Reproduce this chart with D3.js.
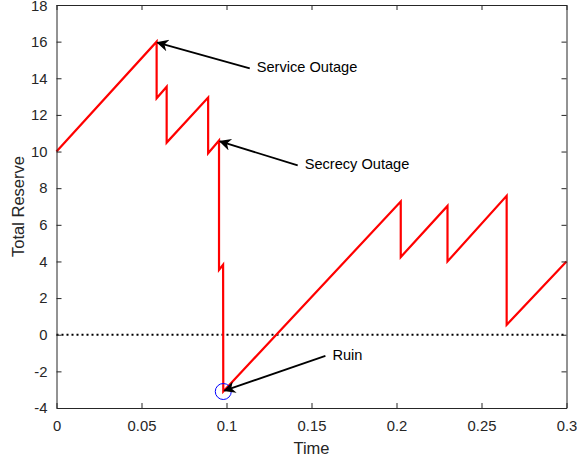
<!DOCTYPE html>
<html><head><meta charset="utf-8">
<script src="https://cdn.jsdelivr.net/npm/d3@7"></script>
<style>body{margin:0;background:#fff}svg{display:block}text{font-family:"Liberation Sans",Arial,sans-serif}</style>
</head><body>
<script>
const times  = [0, 0.0589, 0.0589, 0.0648, 0.0648, 0.0892, 0.0892, 0.0956, 0.0956, 0.0980, 0.0980, 0.0981, 0.2025, 0.2025, 0.2300, 0.2300, 0.2648, 0.2648, 0.3];
const reserve= [10, 16.0, 12.91, 13.54, 10.49, 12.95, 9.91, 10.6, 3.54, 3.82, 3.82, -3.1, 7.27, 4.24, 7.03, 4.0, 7.58, 0.54, 4.0];
const xTicks = [0, 0.05, 0.1, 0.15, 0.2, 0.25, 0.3];
const yTicks = [-4, -2, 0, 2, 4, 6, 8, 10, 12, 14, 16, 18];
const notes = [
  {label: "Service Outage", tx: 0.1178, ty: 14.6, px: 0.0594, py: 15.95},
  {label: "Secrecy Outage", tx: 0.1460, ty: 9.3, px: 0.0962, py: 10.55},
  {label: "Ruin", tx: 0.1623, ty: -1.1, px: 0.0988, py: -3.05}
];
const ruin = {t: 0.0981, v: -3.1};

const W = 577, H = 461;
const m = {l: 56.5, r: 10.5, t: 5, b: 53};
const svg = d3.select("body").append("svg").attr("width", W).attr("height", H);
const x = d3.scaleLinear().domain([0, 0.3]).range([m.l, W - m.r]);
const y = d3.scaleLinear().domain([-4, 18]).range([H - m.b, m.t]);
const axisCol = "#262626";

// zero reference line
svg.append("line").attr("x1", x(0)).attr("x2", x(0.3)).attr("y1", y(0)).attr("y2", y(0))
  .attr("stroke", "#000").attr("stroke-width", 2).attr("stroke-dasharray", "2,3");

// reserve path
const pts = times.map((t, i) => [t, reserve[i]]);
svg.append("path").datum(pts)
  .attr("d", d3.line().x(d => x(d[0])).y(d => y(d[1])))
  .attr("fill", "none").attr("stroke", "#ff0000").attr("stroke-width", 2.2).attr("stroke-linejoin", "miter");

// ruin circle
svg.append("circle").attr("cx", x(ruin.t)).attr("cy", y(ruin.v)).attr("r", 8)
  .attr("fill", "none").attr("stroke", "#0000ff").attr("stroke-width", 1);

// axes
const fmt = d => d === 0 ? "0" : String(d);
const gx = svg.append("g").attr("transform", `translate(0,${y(-4)})`)
  .call(d3.axisBottom(x).tickValues(xTicks).tickFormat(fmt).tickSizeInner(-5).tickSizeOuter(0).tickPadding(12));
const gxt = svg.append("g").attr("transform", `translate(0,${y(18)})`)
  .call(d3.axisTop(x).tickValues(xTicks).tickFormat("").tickSizeInner(-5).tickSizeOuter(0));
const gy = svg.append("g").attr("transform", `translate(${x(0)},0)`)
  .call(d3.axisLeft(y).tickValues(yTicks).tickFormat(fmt).tickSizeInner(-5).tickSizeOuter(0).tickPadding(9));
const gyr = svg.append("g").attr("transform", `translate(${x(0.3)},0)`)
  .call(d3.axisRight(y).tickValues(yTicks).tickFormat("").tickSizeInner(-5).tickSizeOuter(0));
[gx, gxt, gy, gyr].forEach(g => {
  g.selectAll("path").attr("stroke", axisCol).attr("stroke-width", 1);
  g.selectAll("line").attr("stroke", axisCol);
  g.selectAll("text").attr("fill", axisCol).style("font-size", "14.8px").style("font-family", '"Liberation Sans",Arial,sans-serif');
});
gy.selectAll(".tick text").filter(d => d === 18).attr("dy", "0.40em");

// axis labels
svg.append("text").attr("x", (x(0) + x(0.3)) / 2).attr("y", 454).attr("text-anchor", "middle")
  .attr("fill", axisCol).style("font-size", "16.5px").text("Time");
svg.append("text").attr("transform", `translate(24,${(y(-4) + y(18)) / 2}) rotate(-90)`).attr("text-anchor", "middle")
  .attr("fill", axisCol).style("font-size", "16.5px").text("Total Reserve");

// annotations with arrows
svg.append("defs").append("marker").attr("id", "ah").attr("viewBox", "0 0 10 10")
  .attr("refX", 9).attr("refY", 5).attr("markerWidth", 15).attr("markerHeight", 12)
  .attr("markerUnits", "userSpaceOnUse").attr("orient", "auto")
  .append("path").attr("d", "M10,5 L0,0 L3,5 L0,10 Z").attr("fill", "#000");
notes.forEach(n => {
  const sx = x(n.tx) - 7, sy = y(n.ty) + 1;
  svg.append("line").attr("x1", sx).attr("y1", sy).attr("x2", x(n.px)).attr("y2", y(n.py))
    .attr("stroke", "#000").attr("stroke-width", 1.8).attr("marker-end", "url(#ah)");
  svg.append("text").attr("x", x(n.tx)).attr("y", y(n.ty)).attr("dy", "0.35em")
    .attr("fill", "#000").style("font-size", "14.6px").text(n.label);
});
</script>
</body></html>
